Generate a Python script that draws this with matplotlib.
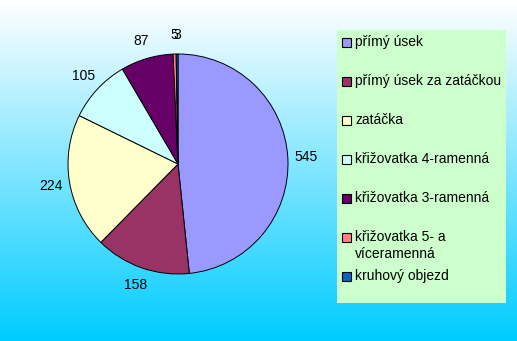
import numpy as np
import matplotlib
matplotlib.use("Agg")
import matplotlib.pyplot as plt
from matplotlib.patches import Rectangle

plt.rcParams['font.family'] = ['Liberation Sans', 'DejaVu Sans']

labels = ['přímý úsek', 'přímý úsek za zatáčkou', 'zatáčka', 'křižovatka 4-ramenná',
          'křižovatka 3-ramenná', 'křižovatka 5- a\nvíceramenná', 'kruhový objezd']
values = [545, 158, 224, 105, 87, 5, 3]
colors = ['#9999FF', '#993366', '#FFFFCC', '#CCFFFF', '#660066', '#FF8080', '#0066CC']

W, H = 517, 341
fig = plt.figure(figsize=(W / 100, H / 100), dpi=100)

# background gradient white -> cyan blue
bg = fig.add_axes([0, 0, 1, 1])
t = np.linspace(0, 1, 256)[:, None]
top = np.array([1.0, 1.0, 1.0])
bottom = np.array([0 / 255, 204 / 255, 255 / 255])
grad = (1 - t)[..., None] * top + t[..., None] * bottom
bg.imshow(grad, aspect='auto', extent=[0, 1, 0, 1])
bg.axis('off')

# pie
cx, cy, r = 178, 164, 110
ax = fig.add_axes([(cx - r) / W, (H - cy - r) / H, 2 * r / W, 2 * r / H])
ax.patch.set_alpha(0)
wedges, texts = ax.pie(values, colors=colors, startangle=90, counterclock=False,
                       labels=[str(v) for v in values], labeldistance=1.17,
                       wedgeprops=dict(edgecolor='black', linewidth=0.7),
                       textprops=dict(fontsize=10, color='black'))
for tx in texts:
    tx.set_ha('center')
    tx.set_va('center')
ax.set_xlim(-1, 1)
ax.set_ylim(-1, 1)

# legend box, one row every 39 px (wrapped label flows into the gap)
fig.patches.append(Rectangle((337 / W, 1 - 303 / H), (506 - 337) / W, (303 - 30) / H,
                             transform=fig.transFigure, facecolor='#CCFFCC',
                             edgecolor='none', zorder=1))
row0, step, box = 42, 39, 9
for i, (lab, col) in enumerate(zip(labels, colors)):
    yc = row0 + i * step
    fig.patches.append(Rectangle((342 / W, 1 - (yc + box / 2) / H), box / W, box / H,
                                 transform=fig.transFigure, facecolor=col,
                                 edgecolor='black', linewidth=0.8, zorder=2))
    fig.text(355 / W, 1 - (yc - 7) / H, lab, fontsize=10, color='black',
             ha='left', va='top', linespacing=1.25, zorder=3)

fig.savefig('out.png', dpi=100)
